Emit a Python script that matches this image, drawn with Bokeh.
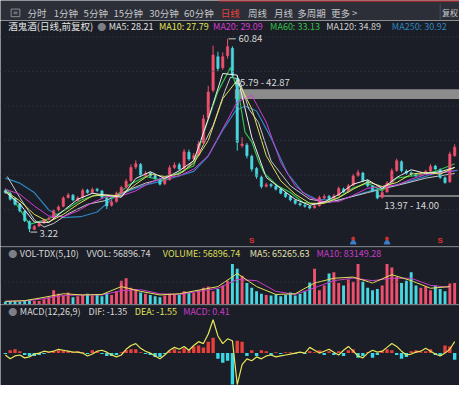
from bokeh.plotting import figure
from bokeh.models import Range1d, Label, Span, ColumnDataSource
from bokeh.layouts import column
from bokeh.embed import file_html
from bokeh.resources import INLINE
from bokeh.core.properties import value

# ---------------- data ----------------
close = [15.0,13.0,11.5,9.5,6.6,4.2,4.9,5.8,6.8,7.3,
         9.6,10.7,13.4,14.3,12.8,13.4,15.6,15.0,15.9,15.6,
         13.6,11.0,12.2,14.8,16.5,18.4,22.5,23.6,20.2,20.7,
         19.9,19.2,17.5,18.7,22.4,23.2,22.0,27.2,25.0,26.0,
         29.5,37.0,45.0,56.0,52.0,55.5,58.5,50.0,30.0,29.5,
         26.0,22.0,19.8,16.8,17.3,17.0,16.0,14.8,13.8,12.8,
         11.8,11.3,10.9,10.4,11.0,13.5,13.8,13.2,14.0,16.2,
         15.2,17.0,20.0,21.0,18.5,17.0,15.5,13.4,15.0,17.8,
         21.5,24.5,21.5,20.8,20.5,20.0,20.6,21.3,22.8,22.0,
         19.5,18.0,26.5,28.5]
open_ = [15.6,14.8,13.2,11.6,9.4,6.4,4.0,5.0,5.9,7.0,
         7.4,9.8,10.9,13.5,14.2,12.6,13.5,15.7,15.0,16.0,
         15.5,13.4,11.2,12.3,14.9,16.6,18.6,22.6,23.4,20.0,
         20.8,20.0,19.0,17.6,18.9,22.5,23.3,22.2,27.0,25.1,
         26.2,29.8,37.2,45.5,55.5,52.2,55.8,58.0,49.0,29.0,
         29.2,25.8,22.2,19.6,16.9,17.4,16.9,16.1,14.9,13.9,
         12.7,11.7,11.2,10.9,10.5,11.1,13.4,13.9,13.3,14.2,
         16.1,15.3,17.2,20.1,20.8,18.4,16.9,15.4,13.6,15.2,
         18.0,21.6,24.2,21.4,20.9,20.4,20.1,20.7,21.4,22.9,
         21.8,19.4,18.2,26.0]
high = [16.2,15.3,13.6,11.9,9.8,6.7,5.3,6.2,7.2,7.8,
        10.0,11.2,13.9,14.9,14.6,13.9,16.2,16.1,16.5,16.4,
        15.8,13.7,12.8,15.3,17.0,19.1,23.4,24.6,23.8,21.4,
        21.2,20.4,19.4,19.4,23.1,24.0,23.9,28.0,27.8,26.8,
        30.4,38.2,46.8,58.8,57.0,56.8,60.84,58.6,49.6,31.5,
        29.8,26.3,22.6,20.1,17.9,17.8,17.3,16.4,15.2,14.2,
        13.0,12.1,11.6,11.2,11.5,14.1,14.5,14.3,14.6,16.8,
        16.5,17.6,20.6,21.8,21.2,18.9,17.2,15.8,15.6,18.4,
        22.2,25.1,24.6,21.9,21.3,20.8,21.2,21.8,23.5,23.3,
        22.2,19.8,27.2,29.4]
low = [14.6,12.6,11.1,9.1,6.2,3.22,3.9,4.8,5.6,6.7,
       7.1,9.4,10.6,13.2,12.4,12.3,13.2,14.7,14.6,15.2,
       13.2,10.1,10.8,12.0,14.5,16.2,18.1,22.0,19.6,19.7,
       19.4,18.8,17.1,17.2,18.5,22.0,21.5,21.8,24.5,24.7,
       25.8,29.3,36.8,44.9,51.2,51.6,54.9,49.2,27.5,28.4,
       25.2,21.3,19.1,16.2,16.5,16.5,15.6,14.5,13.4,12.4,
       11.4,10.9,10.5,10.0,10.2,10.8,13.1,12.8,13.0,14.0,
       14.9,15.0,16.9,19.7,18.1,16.6,15.1,13.0,13.2,14.9,
       17.7,21.2,21.0,20.3,20.0,19.6,19.8,20.4,21.1,21.6,
       19.1,17.6,17.9,25.7]
days = list(range(len(close)))

ma_short_x = list(range(0, 94, 3))
ma5 = [15.2,11.6,6.2,6.1,9.6,13.0,14.8,14.2,13.6,19.2,
       21.2,19.2,21.5,24.5,37.0,50.5,50.0,31.5,19.5,16.2,
       13.0,11.2,12.2,14.4,17.5,18.8,16.2,19.5,21.8,20.7,
       21.2,22.5]
ma10 = [15.5,12.5,8.5,6.2,8.5,11.5,14.0,14.3,14.0,17.5,
        20.5,19.8,20.5,23.8,30.5,43.0,48.5,40.0,26.0,18.5,
        14.5,11.8,11.8,13.5,16.0,18.2,16.8,18.0,20.5,21.0,
        20.5,22.5]
ma20 = [16.0,14.5,11.0,8.0,7.8,9.5,12.0,13.8,14.0,15.5,
        18.0,19.5,20.0,22.0,26.0,34.0,42.0,44.0,36.0,24.0,
        17.0,13.5,12.2,12.3,14.2,16.3,16.8,17.2,19.0,20.4,
        20.8,21.5]
ma60_x = [0.4,5,9,12.4,15.6,19,22.4,25.6,29,32.4,35.6,39,41.4,44,46.6,48.4,
          49.6,51,52.4,53.6,56.4,59,61.6,65,69,72,75,78,81,85,89,93]
ma60 = [15.8,5.5,7.2,9.8,12.7,14.4,13.5,17.3,19.8,18.7,20.7,23.0,34.2,45.1,52.3,43.6,
        33.0,30.2,24.4,20.7,17.0,15.0,12.1,11.5,13.5,16.4,17.8,15.5,19.3,20.1,21.3,23.6]
ma120_x = [0.4,3,6,8,10,13,17,21,25,29,33,37,40,43,45.4,46.6,48.4,50.4,52.4,
           55,59,63,67,71,75,79,83,87,93]
ma120 = [19.8,13.5,6.9,4.7,5.8,8.7,11.5,12.7,15.5,17.8,19.3,21.3,26.4,35.0,45.1,49.4,48.8,39.9,35.9,
         24.4,17.0,13.0,12.1,13.5,15.0,16.4,17.8,19.3,20.7]
ma250_x = [0,3,6,9,12,15.6,19,22.4,25.6,29,32.4,35.6,39,42,45,47.6,49.6,52,55,
           58.4,61.6,64.4,69,75.6,82.4,89,93.6]
ma250 = [19.3,17.8,15.0,9.8,7.5,7.8,9.2,13.5,15.5,17.3,18.4,19.8,21.3,25.9,33.6,39.3,40.8,39.3,31.3,
         20.7,15.0,13.0,12.7,15.5,17.8,20.7,21.6]

volume = [12000,14000,15000,13000,18000,20000,16000,15000,
          22000,30000,60000,45000,38000,50000,
          30000,35000,40000,45000,38000,42000,
          35000,48000,40000,55000,100000,110000,
          70000,65000,50000,45000,40000,35000,
          30000,38000,45000,42000,40000,55000,
          50000,48000,60000,70000,75000,55000,
          65000,80000,100000,170000,150000,120000,
          90000,70000,55000,45000,40000,38000,
          42000,35000,40000,50000,38000,45000,
          55000,92000,150000,60000,80000,130000,
          135000,90000,80000,105000,95000,170000,
          95000,70000,60000,65000,80000,170000,
          155000,115000,90000,100000,135000,80000,
          70000,75000,60000,80000,65000,55000,
          88000,90000]
vma_x = list(range(0, 94, 4))
vma5 = [13000,16000,30000,45000,40000,42000,75000,55000,40000,45000,60000,75000,
        130000,75000,42000,45000,90000,110000,115000,90000,125000,100000,68000,75000]
vma10 = [14000,15000,24000,38000,40000,40000,58000,62000,45000,42000,55000,68000,
         105000,100000,55000,42000,70000,100000,110000,100000,110000,110000,80000,72000]

# MACD (units of 0.1)
dea = [-2,-6,-3,-2,-5,-4,-1,0,2,1,
       2,4,3,2,1,1,0,-3,-1,2,
       3,1,-2,-4,-2,4,8,10,5,2,
       0,-3,-6,-2,3,6,4,7,3,8,
       12,10,20,35,18,10,15,13,-33,-12,
       -6,-8,-4,-6,-3,-2,-4,-3,-2,-1,
       0,1,0,6,3,0,2,4,1,-2,
       3,7,2,-3,-5,0,3,1,2,6,
       10,7,2,-2,-1,1,2,5,2,-1,
       -3,0,4,12]
macd_hist = [-1,3,4,2,-2,-3,-3,-2,-1,1,
             2,3,3,2,1,2,1,-1,3,2,
             -1,-3,-3,-2,1,3,4,4,1,-1,
             -2,-4,-4,-1,2,4,2,5,3,7,
             8,6,12,16,-6,-10,-8,-33,13,12,
             -3,3,-3,3,2,-2,1,-1,1,1,
             -1,1,-1,2,1,3,-2,2,-2,2,
             -3,3,4,-5,-3,1,-5,-2,2,4,
             3,-2,-6,-4,2,3,1,2,4,-2,
             -3,8,7,-7]

gap_top, gap_bottom, gap_start = 45.79, 42.87, 47.5
support_lo, support_hi, support_start = 13.97, 14.00, 77
sell_idx = [51, 90]
buy_idx = [72, 79]

tabs = ["分时", "1分钟", "5分钟", "15分钟", "30分钟", "60分钟", "日线", "周线", "月线", "多周期", "更多 >"]
tab_x = [28, 55, 86, 117, 154, 190, 228, 256, 283, 307, 342]
price_legend = [("MA5: 28.21", 112, "#e0e0e0"),
                ("MA10: 27.79", 164, "#e2e25a"), ("MA20: 29.09", 220, "#d23cd2"),
                ("MA60: 33.13", 279, "#33c04a"), ("MA120: 34.89", 337, "#cfcfcf"),
                ("MA250: 30.92", 405, "#2f85c0")]
stock_title = "酒鬼酒(日线,前复权)"
vol_legend = [("VOL-TDX(5,10)", 20, "#d8d8d8"), ("VVOL: 56896.74", 89, "#d8d8d8"),
              ("VOLUME: 56896.74", 168, "#dede5a"), ("MA5: 65265.63", 258, "#e2e2b0"),
              ("MA10: 83149.28", 327, "#c83cc8")]
macd_legend = [("MACD(12,26,9)", 20, "#d8d8d8"), ("DIF: -1.35", 91, "#d8d8d8"),
               ("DEA: -1.55", 139, "#e2e25a"), ("MACD: 0.41", 189, "#c83cc8")]

# ---------------- styling ----------------
W, H = 459, 385
SX, SY = W / 475, H / 401
BG = "#1b1e26"
BAR_BG = "#2c2f37"
CJK = "Noto Sans CJK SC"
UP, DOWN = "#f0506e", "#48d6e0"


def mkfig(h, xr, yr, bg=BG):
    return figure(width=W, height=h, x_range=xr, y_range=yr, x_axis_type=None, y_axis_type=None,
                  toolbar_location=None, tools="", output_backend="svg", min_border=0,
                  background_fill_color=bg, border_fill_color=bg, outline_line_color=None)


def lbl(f, xr, yr, txt, color, size=9):
    f.add_layout(Label(x=xr * SX, y=f.height - yr * SY, x_units="screen", y_units="screen",
                       text=txt, text_color=color, text_font_size=f"{size}px", text_font=CJK,
                       text_baseline="middle", text_align="left"))


# ---------------- top tab bar ----------------
top = mkfig(20, Range1d(0, 475), Range1d(21, 0), bg=BAR_BG)
top.quad(left=11, right=20, top=9, bottom=17, fill_color=None, line_color="#8a8d94")
top.quad(left=13.5, right=17.5, top=11.5, bottom=14.5, fill_color="#6a6d74", line_color=None)
tab_src = ColumnDataSource(dict(x=tab_x, y=[13] * len(tabs), t=tabs,
                                c=["#e8413c" if t == "日线" else "#c6c8cc" for t in tabs]))
top.text(x="x", y="y", text="t", text_color="c", source=tab_src, text_font=value(CJK),
         text_font_size="9.5px", text_baseline="middle", text_align="left")
top.segment(x0=455, y0=3, x1=455, y1=21, line_color="#4a4d55")
top.text(x=[457], y=[13], text=["复权"], text_color="#c6c8cc", text_font=value(CJK),
         text_font_size="8px", text_baseline="middle")
top.segment(x0=226, y0=0.6, x1=475, y1=0.6, line_color="#b8262b", line_width=1.5)

# ---------------- price panel ----------------
xr = Range1d(-1, 94)
price = mkfig(226, xr, Range1d(-1.08, 66.3))
for off in [17, 53, 89, 125, 161, 197]:
    price.add_layout(Span(location=price.height - off * SY, location_units="screen", dimension="width",
                          line_color="#3a3e4a", line_dash="1 3", line_width=1))

price.quad(left=gap_start, right=94, bottom=gap_bottom, top=gap_top, fill_color="#8c8c8c",
           line_color=None)
price.segment(x0=support_start, y0=support_hi, x1=94, y1=support_hi, line_color="#9a9a9a", line_width=1.5)

price.line(ma250_x, ma250, line_color="#2f85c0", line_width=1.2)
price.line(ma120_x, ma120, line_color="#c8c8c8", line_width=1)
price.line(ma60_x, ma60, line_color="#33c04a", line_width=1.2)

cols = [UP if c >= o else DOWN for o, c in zip(open_, close)]
csrc = ColumnDataSource(dict(x=days, h=high, l=low, col=cols,
                             top=[max(o, c) for o, c in zip(open_, close)],
                             bot=[min(o, c) for o, c in zip(open_, close)]))
price.segment(x0="x", y0="l", x1="x", y1="h", line_color="col", line_width=1, source=csrc)
price.vbar(x="x", width=0.5, top="top", bottom="bot", fill_color="col", line_color="col",
           line_width=0.5, source=csrc)

price.line(ma_short_x, ma20, line_color="#d23cd2", line_width=1)
price.line(ma_short_x, ma10, line_color="#e2e25a", line_width=1)
price.line(ma_short_x, ma5, line_color="#f0f0f0", line_width=1)

peak = max(high)
peak_i = high.index(peak)
bottom_v = min(low)
bottom_i = low.index(bottom_v)
price.segment(x0=peak_i + 0.2, y0=peak, x1=peak_i + 1.7, y1=peak, line_color="#d0d0d0")
price.add_layout(Label(x=peak_i, y=peak, x_offset=11, text=f"{peak:.2f}", text_color="#d8d8d8",
                       text_font_size="9.5px", text_font=CJK, text_baseline="middle"))
price.segment(x0=bottom_i + 0.2, y0=bottom_v, x1=bottom_i + 1.6, y1=bottom_v, line_color="#d0d0d0")
price.add_layout(Label(x=bottom_i, y=bottom_v, x_offset=10, y_offset=-1, text=f"{bottom_v:.2f}",
                       text_color="#d8d8d8", text_font_size="9.5px", text_font=CJK, text_baseline="middle"))
price.add_layout(Label(x=gap_start, y=gap_top, y_offset=7, text=f"{gap_top:.2f} - {gap_bottom:.2f}",
                       text_color="#d8d8d8", text_font_size="9.5px", text_font=CJK, text_baseline="middle"))
price.add_layout(Label(x=support_start + 1.4, y=support_hi, y_offset=-9,
                       text=f"{support_lo:.2f} - {support_hi:.2f}", text_color="#d8d8d8",
                       text_font_size="9.5px", text_font=CJK, text_baseline="middle"))

price.scatter(x=buy_idx, y=[0.2] * len(buy_idx), marker="triangle", size=6, color="#3b7fd0")
price.scatter(x=buy_idx, y=[1.3] * len(buy_idx), marker="circle", size=3, color="#d03030")
price.text(x=sell_idx, y=[0.6] * len(sell_idx), text=["S"] * len(sell_idx), text_color="#e03030",
           text_font_size="8px", text_font_style="bold", text_align="center", text_baseline="middle")

lbl(price, 8, 6, stock_title, "#e4e4e4", size=9.5)
lbl(price, 100, 6, "●", "#7c7f86")
for t, x, c in price_legend:
    lbl(price, x, 6, t, c)

# ---------------- volume panel ----------------
vol = mkfig(58, xr, Range1d(0, 243000))
vol.add_layout(Span(location=vol.height - 0.5, location_units="screen", dimension="width",
                    line_color="#3b3e47", line_width=1))
vol.add_layout(Span(location=vol.height - 37 * SY, location_units="screen", dimension="width",
                    line_color="#3a3e4a", line_dash="1 3", line_width=1))
vol.vbar(x=days, width=0.6, top=volume, bottom=0, fill_color=cols, line_color=None)
vol.line(vma_x, vma10, line_color="#c83cc8", line_width=1)
vol.line(vma_x, vma5, line_color="#e2e25a", line_width=1)
lbl(vol, 8, 7, "●", "#7c7f86")
for t, x, c in vol_legend:
    lbl(vol, x, 7, t, c)

# ---------------- MACD panel ----------------
macd = mkfig(81, xr, Range1d(-34, 51))
macd.add_layout(Span(location=macd.height - 0.5, location_units="screen", dimension="width",
                     line_color="#3b3e47", line_width=1))
hcols = ["#e8403a" if v > 0 else "#3ad8e6" for v in macd_hist]
macd.vbar(x=days, width=0.7, top=macd_hist, bottom=0, fill_color=hcols, line_color=None)
macd.line(days, dea, line_color="#e8e65a", line_width=1.2)
lbl(macd, 8, 7, "●", "#7c7f86")
for t, x, c in macd_legend:
    lbl(macd, x, 7, t, c)

p = column(top, price, vol, macd, spacing=0)
open("out.html", "w").write(file_html(p, INLINE))
